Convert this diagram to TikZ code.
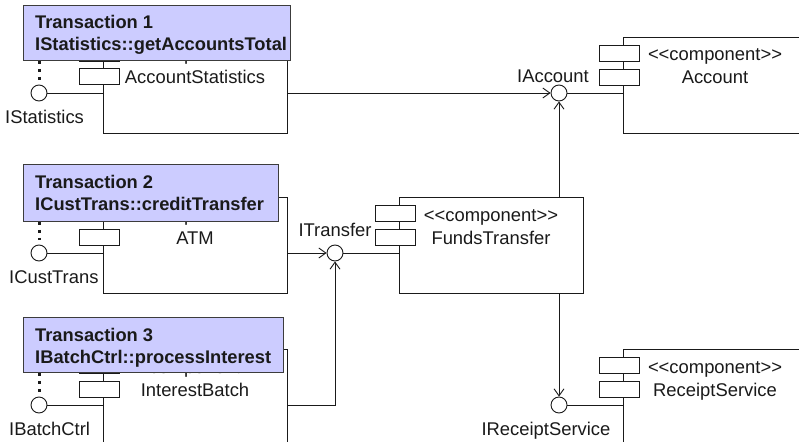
\documentclass[tikz,border=0pt]{standalone}
\usepackage{fontspec}
\setmainfont{Liberation Sans}
\usetikzlibrary{arrows.meta}
\definecolor{bannerfill}{HTML}{CCCCFF}
\definecolor{ink}{HTML}{1A1A1A}
\tikzset{
 comp/.style={draw=ink, line width=0.9pt, fill=white, minimum width=184pt, minimum height=96pt, inner sep=0pt, anchor=north west},
 port/.style={draw=ink, line width=0.9pt, fill=white, minimum width=40pt, minimum height=16pt, inner sep=0pt, anchor=north west},
 iface/.style={circle, draw=ink, line width=0.9pt, fill=white, minimum size=16pt, inner sep=0pt},
 txt/.style={font=\fontsize{18.4}{22}\selectfont, text=ink, inner sep=0pt, anchor=base},
 lblw/.style={txt, anchor=base west},
 banner/.style={draw=ink!85, line width=0.9pt, fill=bannerfill, inner sep=0pt, anchor=north west},
 btext/.style={font=\fontsize{18.3}{22}\selectfont\bfseries, text=ink, inner sep=0pt, anchor=base west},
 conn/.style={draw=ink, line width=0.9pt},
 arr/.style={conn, -{Straight Barb[length=7pt,width=10pt]}},
 dots/.style={draw=ink, line width=3pt, dash pattern=on 3.5pt off 4.5pt},
}
\begin{document}
\begin{tikzpicture}[x=1pt,y=-1pt]
\useasboundingbox (0,0) rectangle (799,441);
\clip (0,0) rectangle (799,441);
\fill[white] (0,0) rectangle (799,441);
% component boxes
\node[comp] (ast) at (103,37) {};
\node[txt] (ast-st) at (195,61) {<{}<component>{}>};
\node[txt] (ast-nm) at (195,84) {AccountStatistics};
\node[port] (ast-p1) at (79,45) {};
\node[port] (ast-p2) at (79,68) {};

\node[comp] (atm) at (103,197) {};
\node[txt] (atm-st) at (195,221) {<{}<component>{}>};
\node[txt] (atm-nm) at (195,244) {ATM};
\node[port] (atm-p1) at (79,205) {};
\node[port] (atm-p2) at (79,229) {};

\node[comp, minimum height=110pt] (ib) at (103,349) {};
\node[txt] (ib-st) at (195,373) {<{}<component>{}>};
\node[txt] (ib-nm) at (195,396) {InterestBatch};
\node[port] (ib-p1) at (79,357) {};
\node[port] (ib-p2) at (79,381) {};

\node[comp] (ft) at (399,197) {};
\node[txt] (ft-st) at (491,221) {<{}<component>{}>};
\node[txt] (ft-nm) at (491,244) {FundsTransfer};
\node[port] (ft-p1) at (375,205) {};
\node[port] (ft-p2) at (375,229) {};

\node[comp] (acc) at (623,37) {};
\node[txt] (acc-st) at (715,61) {<{}<component>{}>};
\node[txt] (acc-nm) at (715,84) {Account};
\node[port] (acc-p1) at (599,45) {};
\node[port] (acc-p2) at (599,69) {};

\node[comp, minimum height=110pt] (rs) at (623,349) {};
\node[txt] (rs-st) at (715,373) {<{}<component>{}>};
\node[txt] (rs-nm) at (715,396) {ReceiptService};
\node[port] (rs-p1) at (599,357) {};
\node[port] (rs-p2) at (599,381) {};

% interfaces
\node[iface] (ist) at (39,93) {};
\node[iface] (ict) at (39,253) {};
\node[iface] (ibc) at (39,405) {};
\node[iface] (iacc) at (559,93) {};
\node[iface] (itr) at (335,253) {};
\node[iface] (irs) at (559,405) {};

\draw[conn] (ist) -- (ist -| ast.west);
\draw[conn] (ict) -- (ict -| atm.west);
\draw[conn] (ibc) -- (ibc -| ib.west);
\draw[conn] (iacc) -- (iacc -| acc.west);
\draw[conn] (itr) -- (itr -| ft.west);
\draw[conn] (irs) -- (irs -| rs.west);

% dependencies
\draw[arr] (ast.east |- iacc) -- (iacc);
\draw[arr] (atm.east |- itr) -- (itr);
\draw[arr] (ib.east |- ibc) -| (itr);
\draw[arr] (iacc |- ft.north) -- (iacc);
\draw[arr] (irs |- ft.south) -- (irs);

% interface labels
\node[lblw] (l-ist) at (5,123) {IStatistics};
\node[lblw] (l-ict) at (9,283) {ICustTrans};
\node[lblw] (l-ibc) at (9,435) {IBatchCtrl};
\node[txt] (l-iacc) at (553,83) {IAccount};
\node[txt] (l-itr) at (335,236) {ITransfer};
\node[txt] (l-irs) at (546,435) {IReceiptService};

% banners
\node[banner, minimum width=267pt, minimum height=55pt] (b1) at (23,5) {};
\node[btext] (b1a) at (35,29) {Transaction 1};
\node[btext] (b1b) at (35,51) {IStatistics::getAccountsTotal};
\node[banner, minimum width=255pt, minimum height=57pt] (b2) at (23,164) {};
\node[btext] (b2a) at (35,188) {Transaction 2};
\node[btext] (b2b) at (35,210) {ICustTrans::creditTransfer};
\node[banner, minimum width=260pt, minimum height=55pt] (b3) at (23,317) {};
\node[btext] (b3a) at (35,341) {Transaction 3};
\node[btext] (b3b) at (35,363) {IBatchCtrl::processInterest};

% dotted links from transactions to interfaces
\draw[dots] (b1.south -| ist) -- ([yshift=5pt]ist.north);
\draw[dots] (b2.south -| ict) -- ([yshift=5pt]ict.north);
\draw[dots] (b3.south -| ibc) -- ([yshift=5pt]ibc.north);
\end{tikzpicture}
\end{document}
